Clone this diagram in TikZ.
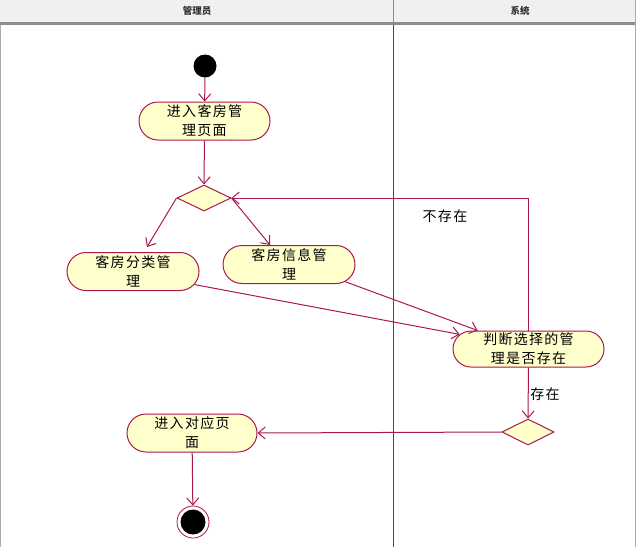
\documentclass[tikz,border=0pt]{standalone}
\usepackage{fontspec}
\newfontfamily\cjk[LetterSpace=9]{Noto Sans CJK SC}
\newfontfamily\cjktitle{Noto Sans CJK SC}
\usetikzlibrary{arrows.meta,shapes.misc,shapes.geometric}
\definecolor{lane}{RGB}{170,24,80}
\definecolor{actfill}{RGB}{255,255,204}
\definecolor{hdrbg}{RGB}{240,240,240}
\definecolor{hdrline}{RGB}{140,140,140}
\definecolor{frame}{RGB}{170,170,170}

\begin{document}
\begin{tikzpicture}[x=1pt,y=-1pt,
  activity/.style={rounded rectangle, draw=lane, fill=actfill, line width=1pt,
    minimum width=#1, minimum height=38pt, inner sep=0pt, align=center,
    font=\cjk\fontsize{14}{19}\selectfont},
  activity/.default=131pt,
  decision/.style={diamond, draw=lane, fill=actfill, line width=1pt,
    minimum width=54pt, minimum height=26pt, inner sep=0pt},
  flow/.style={draw=lane, line width=1pt, -{Straight Barb[length=7pt,width=12pt]}},
  guard/.style={font=\cjk\fontsize{14}{16}\selectfont, inner sep=0pt},
  lanetitle/.style={font=\cjktitle\bfseries\fontsize{9.5}{11}\selectfont, text=black!80, inner sep=0pt}
]
\useasboundingbox (0,0) rectangle (636,547);

% swimlane header
\fill[hdrbg] (0,0) rectangle (636,22);
\fill[hdrline] (0,22) rectangle (636,25);
\draw[hdrline, line width=1pt] (393,0) -- (393,22);
\node[lanetitle] (lane1) at (197,11) {管理员};
\node[lanetitle] (lane2) at (520,11) {系统};

% outer frame and lane divider
\draw[frame, line width=1pt] (0.5,25) -- (0.5,547);
\draw[frame, line width=1pt] (635.5,0) -- (635.5,547);
\draw[lane, line width=1pt] (393,25) -- (393,547);

% start and end states
\node[circle, fill=black, minimum size=23pt, inner sep=0pt] (start) at (205,66) {};
\node[circle, draw=lane, fill=white, line width=0.8pt, minimum size=32pt, inner sep=0pt] (stop) at (193,522) {};
\node[circle, fill=black, minimum size=25pt, inner sep=0pt] (stopdot) at (193,522) {};

% activities
\node[activity] (enter) at (204.5,121) {进入客房管\\理页面};
\node[decision] (d1) at (204,198) {};
\node[activity=132pt] (cat) at (133,271.5) {客房分类管\\理};
\node[activity=132pt] (info) at (289,264.5) {客房信息管\\理};
\node[activity=151pt, minimum height=36pt] (check) at (528.5,349) {判断选择的管\\理是否存在};
\node[decision, minimum width=52pt] (d2) at (528,432) {};
\node[activity=130pt] (target) at (192,433) {进入对应页\\面};

% flows
\draw[flow] (start) -- (enter);
\draw[flow] (enter) -- (d1);
\draw[flow] (d1.west) -- ([xshift=14pt,yshift=5pt]cat.north);
\draw[flow] (d1.east) -- ([xshift=-19pt]info.north);
\draw[flow] (cat.-12) -- (check.168);
\draw[flow] (info.-17) -- (check.160);
\draw[flow] (check.north) |- (d1.east);
\draw[flow] (check) -- (d2);
\draw[flow] (d2.west) -- (target.east);
\draw[flow] (target) -- (stop);

% guards
\node[guard] (gno) at (445,216) {不存在};
\node[guard] (gyes) at (545,394) {存在};
\end{tikzpicture}
\end{document}
